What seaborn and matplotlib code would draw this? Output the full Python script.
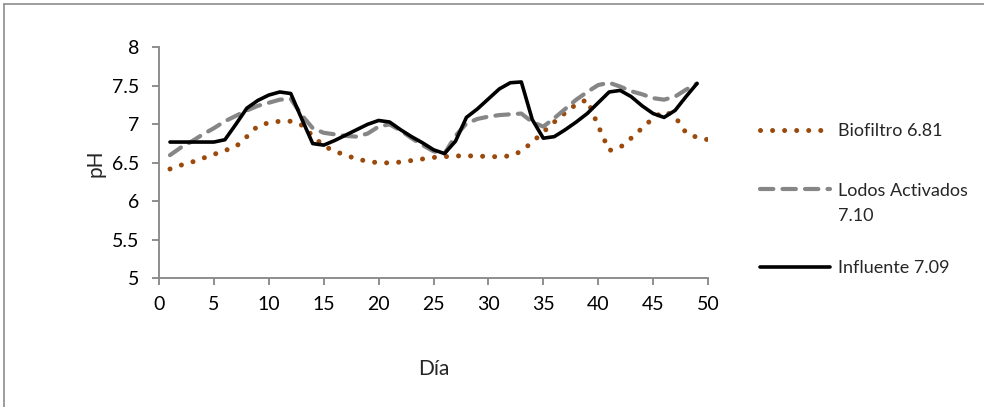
import matplotlib
matplotlib.use("Agg")
import matplotlib.pyplot as plt
from matplotlib.lines import Line2D
import seaborn as sns
import pandas as pd

# datos (pH diario)
dias = list(range(1, 51))

biofiltro = [6.42, 6.47, 6.51, 6.56, 6.61, 6.66, 6.71, 6.84, 6.98, 7.02,
             7.04, 7.04, 6.99, 6.85, 6.72, 6.65, 6.60, 6.55, 6.52, 6.50,
             6.50, 6.51, 6.53, 6.55, 6.57, 6.58, 6.59, 6.59, 6.59, 6.58,
             6.58, 6.59, 6.65, 6.77, 6.90, 7.03, 7.15, 7.26, 7.32, 6.98,
             6.66, 6.70, 6.82, 6.95, 7.08, 7.17, 7.10, 6.89, 6.83, 6.80]

lodos = [6.60, 6.70, 6.78, 6.87, 6.95, 7.04, 7.11, 7.18, 7.24, 7.28,
         7.32, 7.33, 7.12, 6.95, 6.89, 6.87, 6.85, 6.84, 6.88, 6.97,
         7.00, 6.92, 6.82, 6.73, 6.65, 6.62, 6.85, 7.01, 7.07, 7.10,
         7.12, 7.13, 7.14, 7.03, 6.97, 7.08, 7.20, 7.32, 7.42, 7.51,
         7.54, 7.49, 7.43, 7.39, 7.34, 7.32, 7.36, 7.45, 7.53]

influente = [6.77, 6.77, 6.77, 6.77, 6.77, 6.80, 7.00, 7.21, 7.31, 7.38,
             7.42, 7.40, 7.07, 6.75, 6.73, 6.79, 6.86, 6.93, 7.00, 7.05,
             7.03, 6.93, 6.84, 6.76, 6.67, 6.62, 6.78, 7.09, 7.20, 7.33,
             7.46, 7.54, 7.55, 7.06, 6.82, 6.84, 6.93, 7.03, 7.14, 7.28,
             7.42, 7.44, 7.36, 7.24, 7.14, 7.09, 7.18, 7.36, 7.53]

etiquetas = ["Biofiltro 6.81", "Lodos Activados", "7.10", "Influente 7.09"]

sns.set_style("white")
plt.rcParams["font.family"] = ["Lato", "DejaVu Sans"]

GRIS = "#868686"
FS = 14
FS_LEG = 13

fig = plt.figure(figsize=(9.84, 4.07), dpi=100)
ax = fig.add_axes([0.1616, 0.316, 0.5579, 0.5678])

df_bio = pd.DataFrame({"dia": dias[:len(biofiltro)], "ph": biofiltro})
df_lod = pd.DataFrame({"dia": dias[:len(lodos)], "ph": lodos})
df_inf = pd.DataFrame({"dia": dias[:len(influente)], "ph": influente})

sns.lineplot(data=df_bio, x="dia", y="ph", ax=ax, color="#9A4A0C",
             linewidth=3.6)
sns.lineplot(data=df_lod, x="dia", y="ph", ax=ax, color="#868686",
             linewidth=3.0)
sns.lineplot(data=df_inf, x="dia", y="ph", ax=ax, color="#000000",
             linewidth=2.6)

l_bio, l_lod, l_inf = ax.get_lines()[:3]
l_bio.set_linestyle((0, (0.01, 2.4)))
l_bio.set_dash_capstyle("round")
l_lod.set_linestyle((0, (3.2, 2.2)))
l_lod.set_dash_capstyle("round")
l_inf.set_solid_capstyle("round")
l_inf.set_solid_joinstyle("round")

ax.set_xlim(0, 50)
ax.set_ylim(5, 8)
ax.set_xticks(range(0, 51, 5))
ax.set_yticks([5, 5.5, 6, 6.5, 7, 7.5, 8])
ax.set_yticklabels(["5", "5.5", "6", "6.5", "7", "7.5", "8"])

for s in ["top", "right"]:
    ax.spines[s].set_visible(False)
for s in ["left", "bottom"]:
    ax.spines[s].set_color(GRIS)
    ax.spines[s].set_linewidth(1.3)

ax.tick_params(axis="both", direction="out", length=5, width=1.3, color=GRIS,
               labelsize=FS, labelcolor="#000000")
ax.tick_params(axis="x", pad=8)
ax.tick_params(axis="y", pad=9)
ax.tick_params(left=True, bottom=True)

ax.set_xlabel("Día", fontsize=15, labelpad=33)
ax.set_ylabel("pH", fontsize=15, labelpad=5)

# leyenda en tres bloques para respetar las posiciones del original
estilo_leg = dict(loc="center left", bbox_transform=fig.transFigure,
                  frameon=False, fontsize=FS_LEG, handlelength=3.9,
                  handletextpad=0.4, borderpad=0, borderaxespad=0)
vacio = Line2D([], [], alpha=0)
x_leg = 760 / 984

leg1 = ax.legend([l_bio], [etiquetas[0]],
                 bbox_to_anchor=(x_leg, 1 - 131 / 407), **estilo_leg)
ax.add_artist(leg1)
leg2 = ax.legend([l_lod, vacio], etiquetas[1:3], labelspacing=0.55,
                 bbox_to_anchor=(x_leg, 1 - 203.5 / 407), **estilo_leg)
ax.add_artist(leg2)
leg3 = ax.legend([l_inf], [etiquetas[3]],
                 bbox_to_anchor=(x_leg, 1 - 268 / 407), **estilo_leg)

# marco exterior del grafico
fig.add_artist(Line2D([4 / 984, 1], [1 - 4 / 407, 1 - 4 / 407],
                      transform=fig.transFigure, color="#8C8C8C", lw=1.2))
fig.add_artist(Line2D([4 / 984, 4 / 984], [0, 1 - 4 / 407],
                      transform=fig.transFigure, color="#8C8C8C", lw=1.2))

fig.savefig("out.png", dpi=100)
